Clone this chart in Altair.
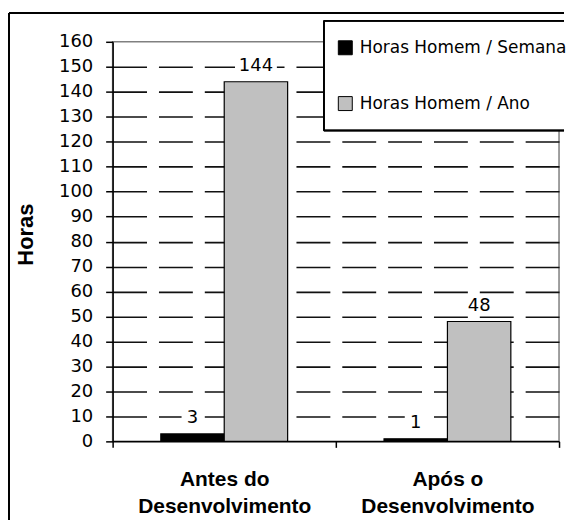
import altair as alt
import pandas as pd

categories = ["Antes do\nDesenvolvimento", "Após o\nDesenvolvimento"]
series = ["Horas Homem / Semana", "Horas Homem / Ano"]
semana = [3, 1]
ano = [144, 48]
colors = ["#000000", "#C0C0C0"]
y_ticks = list(range(0, 161, 10))

rows = []
for i, c in enumerate(categories):
    for s, vals in zip(series, [semana, ano]):
        v = vals[i]
        lab = str(v)
        w = (12 + 10 * len(lab)) / 2 / 22
        h = 10 / 22
        path = f"M{-w:.3f},{-h:.3f}H{w:.3f}V{h:.3f}H{-w:.3f}Z"
        rows.append({"cat": c, "serie": s, "valor": v, "lab": lab, "box": path})
df = pd.DataFrame(rows)

W, H = 448, 401

x_enc = alt.X("cat:N", sort=categories,
              scale=alt.Scale(paddingInner=0, paddingOuter=0),
              axis=alt.Axis(title=None, labelAngle=0, tickBand="extent",
                            labelExpr="split(datum.label, '\\n')",
                            labelFont="Liberation Sans", labelFontWeight="bold",
                            labelFontSize=21, labelLineHeight=27, labelPadding=21,
                            labelColor="black", tickSize=6, tickColor="black",
                            tickWidth=1.5, domainColor="black", domainWidth=1.5,
                            grid=False))
xo_enc = alt.XOffset("serie:N", sort=series,
                     scale=alt.Scale(paddingOuter=0.76, paddingInner=0))
y_enc = alt.Y("valor:Q",
              scale=alt.Scale(domain=[0, 160], nice=False),
              axis=alt.Axis(values=y_ticks, title="Horas",
                            titleFont="Liberation Sans", titleFontWeight="bold",
                            titleFontSize=22, titleColor="black",
                            titleAngle=270, titleX=-87, titleY=193,
                            titleAlign="center", titleBaseline="middle",
                            labelFont="DejaVu Sans", labelFontSize=18,
                            labelColor="black", labelPadding=13,
                            tickSize=7, tickColor="black", tickWidth=1.5,
                            domainColor="black", domainWidth=1.5,
                            grid=True, gridColor="#111111", gridWidth=1.6,
                            gridDash=[34, 12],
                            gridOpacity={"condition": {"test": "datum.value == 160 || datum.value == 0", "value": 0}, "value": 1}))

base = alt.Chart(df)

# outer chart frame (left and top edges; the others fall outside the picture)
frame_left = base.mark_rule(stroke="black", strokeWidth=1.5).encode(
    x=alt.value(-104), y=alt.value(-29), y2=alt.value(480))
frame_top = base.mark_rule(stroke="black", strokeWidth=1.5).encode(
    x=alt.value(-104), x2=alt.value(453), y=alt.value(-29))

# legend box background and its visible edges
leg_bg = base.mark_rect(fill="white", strokeWidth=0).encode(
    x=alt.value(212), x2=alt.value(453), y=alt.value(-21), y2=alt.value(89))
leg_left = base.mark_rule(stroke="black", strokeWidth=1.5).encode(
    x=alt.value(212), y=alt.value(-21), y2=alt.value(89))
leg_top = base.mark_rule(stroke="black", strokeWidth=1.5).encode(
    x=alt.value(212), x2=alt.value(453), y=alt.value(-21))
leg_bot = base.mark_rule(stroke="black", strokeWidth=1.5).encode(
    x=alt.value(212), x2=alt.value(453), y=alt.value(89))

bars = base.mark_bar(stroke="black", strokeWidth=1.2).encode(
    x=x_enc, xOffset=xo_enc, y=y_enc,
    color=alt.Color("serie:N", sort=series,
                    scale=alt.Scale(domain=series, range=colors),
                    legend=alt.Legend(title=None, orient="none", legendX=225, legendY=-8,
                                      padding=0, clipHeight=28, rowPadding=28,
                                      symbolType="square", symbolSize=196,
                                      symbolStrokeColor="black", symbolStrokeWidth=1,
                                      labelFont="DejaVu Sans", labelFontSize=17,
                                      labelColor="black", labelOffset=6, labelLimit=400)),
)

boxes = base.mark_point(filled=True, fill="white", opacity=1, strokeWidth=0,
                        size=1936, yOffset=-17).encode(
    x=x_enc, xOffset=xo_enc, y=y_enc,
    shape=alt.Shape("box:N", scale=None, legend=None),
)

texts = base.mark_text(font="DejaVu Sans", fontSize=18, color="black",
                       baseline="middle", dy=-16).encode(
    x=x_enc, xOffset=xo_enc, y=y_enc, text="lab:N"
)

chart = alt.layer(frame_left, frame_top, bars, boxes, texts,
                  leg_bg, leg_left, leg_top, leg_bot).properties(
    width=W, height=H,
    padding={"left": 0, "top": 3, "right": 0, "bottom": 0},
).configure_view(stroke="#808080", strokeWidth=1.5)

chart.save("out.html", embed_options={"renderer": "svg", "actions": False})
